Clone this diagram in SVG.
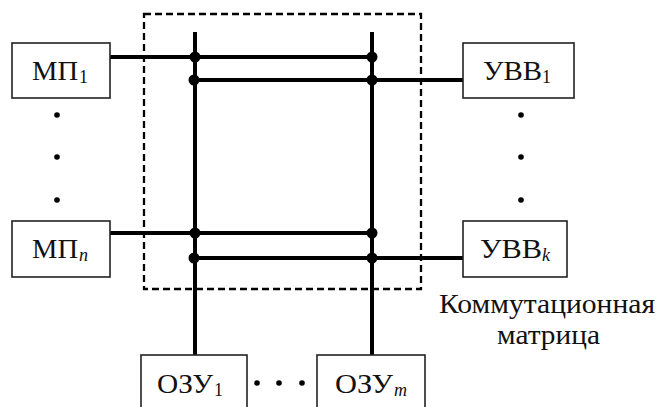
<svg xmlns="http://www.w3.org/2000/svg" width="659" height="407" viewBox="0 0 659 407">
<style>
.box{fill:#fff;stroke:#222;stroke-width:1.6}
.t{font-family:"Liberation Serif","Times New Roman",serif;font-size:28px;fill:#111}
.s{font-family:"Liberation Serif","Times New Roman",serif;font-size:18px;fill:#111}
.i{font-style:italic}
.bus{stroke:#000;stroke-width:4;fill:none}
.dash{stroke:#000;stroke-width:2.3;fill:none;stroke-dasharray:7 4}
.dot{fill:#000}
</style>
<rect width="659" height="407" fill="#fff"/>
<g id="matrix">
<rect class="dash" x="144" y="14" width="277" height="275"/>
</g>
<g id="connectors">
<line class="bus" x1="195" y1="32" x2="195" y2="356"/>
<line class="bus" x1="372" y1="32" x2="372" y2="356"/>
<line class="bus" x1="110" y1="57" x2="372" y2="57"/>
<line class="bus" x1="194" y1="80" x2="463" y2="80"/>
<line class="bus" x1="110" y1="233" x2="372" y2="233"/>
<line class="bus" x1="194" y1="258" x2="463" y2="258"/>
<circle class="dot" cx="195" cy="57" r="5.5"/>
<circle class="dot" cx="372" cy="57" r="5.5"/>
<circle class="dot" cx="194" cy="80" r="5.5"/>
<circle class="dot" cx="372" cy="80" r="5.5"/>
<circle class="dot" cx="195" cy="233" r="5.5"/>
<circle class="dot" cx="372" cy="233" r="5.5"/>
<circle class="dot" cx="194" cy="258" r="5.5"/>
<circle class="dot" cx="372" cy="258" r="5.5"/>
</g>
<g id="mp1">
<rect class="box" x="12" y="43" width="98" height="55"/>
<text class="t" x="32" y="80" textLength="46" lengthAdjust="spacingAndGlyphs">МП</text>
<text class="s" x="79" y="83">1</text>
</g>
<g id="mpn">
<rect class="box" x="12" y="221" width="98" height="56"/>
<text class="t" x="32" y="258" textLength="46" lengthAdjust="spacingAndGlyphs">МП</text>
<text class="s i" x="79" y="261">n</text>
</g>
<g id="uvv1">
<rect class="box" x="463" y="43" width="111" height="55"/>
<text class="t" x="483" y="80" textLength="59" lengthAdjust="spacingAndGlyphs">УВВ</text>
<text class="s" x="542" y="83">1</text>
</g>
<g id="uvvk">
<rect class="box" x="463" y="221" width="104" height="56"/>
<text class="t" x="480" y="258" textLength="62" lengthAdjust="spacingAndGlyphs">УВВ</text>
<text class="s i" x="542" y="261">k</text>
</g>
<g id="ozu1">
<rect class="box" x="141" y="355" width="106" height="60"/>
<text class="t" x="157" y="393" textLength="56" lengthAdjust="spacingAndGlyphs">ОЗУ</text>
<text class="s" x="214" y="396">1</text>
</g>
<g id="ozum">
<rect class="box" x="317" y="355" width="108" height="60"/>
<text class="t" x="335" y="393" textLength="58" lengthAdjust="spacingAndGlyphs">ОЗУ</text>
<text class="s i" x="394" y="396">m</text>
</g>
<g id="ellipses">
<circle class="dot" cx="57" cy="115" r="2.8"/>
<circle class="dot" cx="57" cy="157" r="2.8"/>
<circle class="dot" cx="57" cy="200" r="2.8"/>
<circle class="dot" cx="521" cy="115" r="2.8"/>
<circle class="dot" cx="521" cy="157" r="2.8"/>
<circle class="dot" cx="521" cy="200" r="2.8"/>
<circle class="dot" cx="257" cy="383" r="2.8"/>
<circle class="dot" cx="279" cy="383" r="2.8"/>
<circle class="dot" cx="302" cy="383" r="2.8"/>
</g>
<g id="label">
<text class="t" x="439" y="313" textLength="216" lengthAdjust="spacingAndGlyphs">Коммутационная</text>
<text class="t" x="497" y="344" textLength="103" lengthAdjust="spacingAndGlyphs">матрица</text>
</g>
</svg>
